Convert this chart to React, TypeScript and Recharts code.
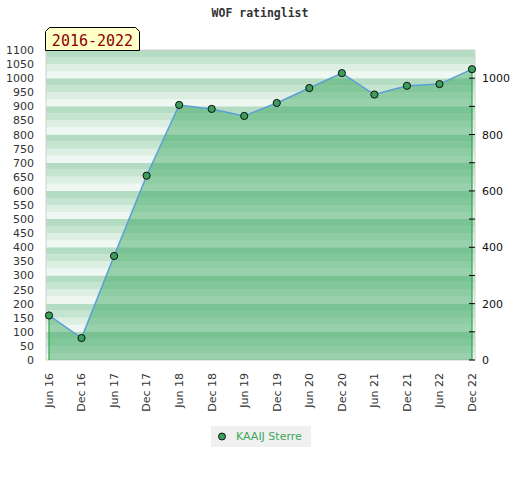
import React from 'react';
import {
  ComposedChart,
  Area,
  Line,
  XAxis,
  YAxis,
  ReferenceArea,
  ReferenceLine,
} from 'recharts';

const MONTHS = [
  'Jun 16', 'Dec 16', 'Jun 17', 'Dec 17', 'Jun 18', 'Dec 18', 'Jun 19',
  'Dec 19', 'Jun 20', 'Dec 20', 'Jun 21', 'Dec 21', 'Jun 22', 'Dec 22',
];
const RATINGS = [158, 78, 369, 654, 905, 891, 866, 912, 965, 1018, 942, 973, 979, 1032];
const LEFT_TICKS = [0, 50, 100, 150, 200, 250, 300, 350, 400, 450, 500, 550, 600, 650, 700, 750, 800, 850, 900, 950, 1000, 1050, 1100];
const RIGHT_TICKS = [0, 100, 200, 300, 400, 500, 600, 700, 800, 900, 1000];
const RIGHT_LABELS = [0, 200, 400, 600, 800, 1000];
const BAND_STARTS = [0, 100, 200, 300, 400, 500, 600, 700, 800, 900, 1000];
// stripe colours from bottom to top within each band of 100
const STRIPE_COLORS = ['#eef7f1', '#dcefe2', '#c6e5d0', '#b3dcc3'];
const SERIES_NAME = 'KAAIJ Sterre';
const TITLE = 'WOF ratinglist';
const PERIOD = '2016-2022';

const data = MONTHS.map((m, i) => ({ idx: i, month: m, rating: RATINGS[i] }));
const X_TICKS = MONTHS.map((_, i) => i);
const stripes = BAND_STARTS.flatMap((b) =>
  STRIPE_COLORS.map((c, k) => ({ y1: b + k * 25, y2: b + (k + 1) * 25, color: c }))
);

const FONT = '"DejaVu Sans", Verdana, sans-serif';

const XTick = (props: any) => {
  const { x, y, payload } = props;
  const label = MONTHS[payload.value];
  return (
    <text
      x={x}
      y={y + 11}
      transform={`rotate(-90 ${x} ${y + 11})`}
      textAnchor="end"
      dy="0.35em"
      fontSize={11}
      fontFamily={FONT}
      fill="#333"
    >
      {label}
    </text>
  );
};

const LeftTick = (props: any) => {
  const { x, y, payload } = props;
  return (
    <text x={x - 10} y={y} dy="0.36em" textAnchor="end" fontSize={11} fontFamily={FONT} fill="#333">
      {payload.value}
    </text>
  );
};

const RightTick = (props: any) => {
  const { x, y, payload } = props;
  const labeled = RIGHT_LABELS.includes(payload.value);
  return (
    <g>
      <line x1={x - 6} x2={x} y1={y} y2={y} stroke="#000" strokeWidth={1} />
      {labeled && (
        <text x={x + 7} y={y} dy="0.36em" textAnchor="start" fontSize={11} fontFamily={FONT} fill="#111">
          {payload.value}
        </text>
      )}
    </g>
  );
};

const Dot = (props: any) => {
  const { cx, cy } = props;
  return <circle cx={cx} cy={cy} r={3.6} fill="#3a9f5c" stroke="#111" strokeWidth={1} />;
};

export default function App() {
  const first = data[0];
  const last = data[data.length - 1];
  return (
    <div style={{ position: 'absolute', left: 0, top: 0, width: 520, height: 480, background: '#fff' }}>
      <div
        style={{
          position: 'absolute',
          left: 0,
          top: 6,
          width: 520,
          textAlign: 'center',
          fontFamily: '"DejaVu Sans Mono", monospace',
          fontWeight: 'bold',
          fontSize: 11.5,
          color: '#333',
        }}
      >
        {TITLE}
      </div>
      <ComposedChart
        width={520}
        height={480}
        data={data}
        margin={{ top: 50, right: 0, bottom: 60, left: 0 }}
      >
        <XAxis
          dataKey="idx"
          type="number"
          domain={[-0.092, 13.092]}
          ticks={X_TICKS}
          interval={0}
          tick={<XTick />}
          tickLine={false}
          axisLine={false}
          tickSize={0}
          height={60}
        />
        <YAxis
          yAxisId="left"
          orientation="left"
          width={46}
          domain={[0, 1100]}
          ticks={LEFT_TICKS}
          interval={0}
          tick={<LeftTick />}
          tickLine={false}
          axisLine={false}
          tickSize={0}
        />
        <YAxis
          yAxisId="right"
          orientation="right"
          width={45}
          domain={[0, 1100]}
          ticks={RIGHT_TICKS}
          interval={0}
          tick={<RightTick />}
          tickLine={false}
          axisLine={false}
          tickSize={0}
          tickMargin={0}
        />
        {stripes.map((s, i) => (
          <ReferenceArea
            key={i}
            yAxisId="left"
            y1={s.y1}
            y2={s.y2}
            fill={s.color}
            fillOpacity={1}
            stroke="none"
          />
        ))}
        <ReferenceArea
          yAxisId="left"
          y1={0}
          y2={1100}
          fill="none"
          stroke="#d0d0d0"
          strokeWidth={1}
        />
        <Area
          yAxisId="left"
          type="linear"
          dataKey="rating"
          fill="#33a45b"
          fillOpacity={0.46}
          stroke="none"
          isAnimationActive={false}
          dot={false}
          activeDot={false}
        />
        <ReferenceLine
          yAxisId="left"
          segment={[{ x: first.idx, y: 0 }, { x: first.idx, y: first.rating }]}
          stroke="#2ea84f"
          strokeWidth={1.2}
        />
        <ReferenceLine
          yAxisId="left"
          segment={[{ x: last.idx, y: 0 }, { x: last.idx, y: last.rating }]}
          stroke="#2ea84f"
          strokeWidth={1.2}
        />
        <Line
          yAxisId="right"
          type="linear"
          dataKey="rating"
          name={SERIES_NAME}
          stroke="#5b9fd6"
          strokeWidth={1.5}
          dot={<Dot />}
          activeDot={false}
          isAnimationActive={false}
        />
      </ComposedChart>
      <svg
        style={{ position: 'absolute', left: 0, top: 0, pointerEvents: 'none' }}
        width={520}
        height={60}
      >
        <polygon
          points="45.5,50.5 45.5,31.5 49.5,27.5 135.5,27.5 139.5,31.5 139.5,50.5"
          fill="#ffffc8"
          stroke="#000"
          strokeWidth={1}
        />
        <text
          x={92.5}
          y={45.5}
          textAnchor="middle"
          fontFamily='"DejaVu Sans Mono", monospace'
          fontSize={15}
          fill="#8b0000"
        >
          {PERIOD}
        </text>
      </svg>
      <div
        style={{
          position: 'absolute',
          left: 211,
          top: 426,
          width: 100,
          height: 21,
          background: '#f0f0f0',
          display: 'flex',
          alignItems: 'center',
          fontFamily: FONT,
          fontSize: 11,
          color: '#3aa85a',
        }}
      >
        <svg width={25} height={21} style={{ display: 'block' }}>
          <circle cx={11} cy={10.5} r={3.5} fill="#3a9f5c" stroke="#111" strokeWidth={1} />
        </svg>
        <span>{SERIES_NAME}</span>
      </div>
    </div>
  );
}
